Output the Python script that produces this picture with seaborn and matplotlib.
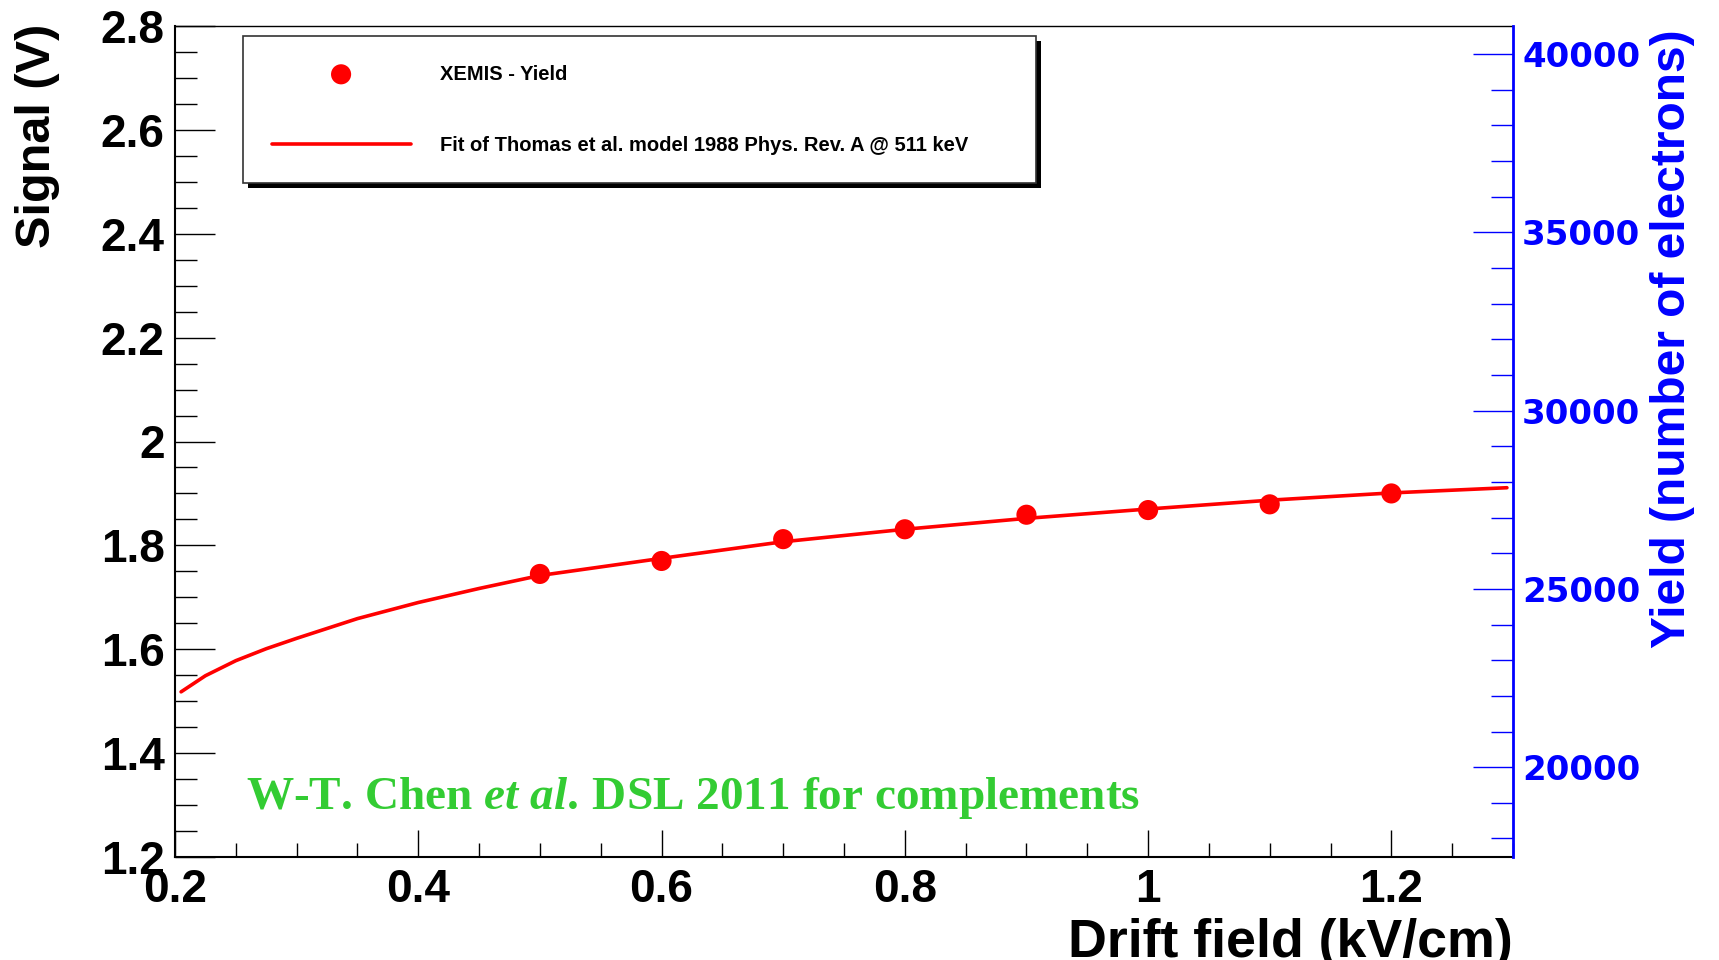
import numpy as np
import pandas as pd
import matplotlib
matplotlib.use("Agg")
import matplotlib.pyplot as plt
from matplotlib.ticker import MultipleLocator
from matplotlib.patches import Rectangle
from matplotlib.transforms import IdentityTransform
from matplotlib import font_manager
import seaborn as sns

# ---------------- data ----------------
field_kv_cm = [0.5, 0.6, 0.7, 0.8, 0.9, 1.0, 1.1, 1.2]
signal_v = [1.745, 1.770, 1.812, 1.831, 1.859, 1.868, 1.879, 1.900]

fit_field = [0.205, 0.225, 0.25, 0.275, 0.30, 0.35, 0.40, 0.45, 0.50, 0.60,
             0.70, 0.80, 0.90, 1.00, 1.10, 1.20, 1.295]
fit_signal = [1.518, 1.549, 1.578, 1.601, 1.621, 1.659, 1.690, 1.717, 1.742,
              1.775, 1.807, 1.831, 1.852, 1.870, 1.887, 1.901, 1.911]

field_range = [0.2, 1.3]
signal_range = [1.2, 2.8]
yield_range = [17480, 40790]

x_ticks = [0.2, 0.4, 0.6, 0.8, 1.0, 1.2]
x_tick_labels = ["0.2", "0.4", "0.6", "0.8", "1", "1.2"]
y_ticks = [1.2, 1.4, 1.6, 1.8, 2.0, 2.2, 2.4, 2.6, 2.8]
y_tick_labels = ["1.2", "1.4", "1.6", "1.8", "2", "2.2", "2.4", "2.6", "2.8"]
yield_ticks = [20000, 25000, 30000, 35000, 40000]
yield_tick_labels = ["20000", "25000", "30000", "35000", "40000"]

label_points = "XEMIS - Yield"
label_fit = "Fit of Thomas et al. model 1988 Phys. Rev. A @ 511 keV"
note_text = r"W-T. Chen $\mathit{et\ al.}\,$DSL 2011 for complements"

# ---------------- style ----------------
sns.set_theme(style="ticks")
plt.rcParams['font.family'] = ['Liberation Sans', 'DejaVu Sans']
plt.rcParams['mathtext.fontset'] = 'custom'
plt.rcParams['mathtext.rm'] = 'Liberation Serif:bold'
plt.rcParams['mathtext.it'] = 'Liberation Serif:italic:bold'
plt.rcParams['axes.facecolor'] = 'white'
plt.rcParams['figure.facecolor'] = 'white'
plt.rcParams['text.color'] = 'black'
plt.rcParams['axes.labelcolor'] = 'black'
plt.rcParams['xtick.color'] = 'black'
plt.rcParams['ytick.color'] = 'black'

RED = '#ff0000'
BLUE = '#0000ff'
GREEN = '#33cc33'

fig = plt.figure(figsize=(17.19, 9.6), dpi=100)
L, B = 175 / 1719, (960 - 857) / 960
W, H = 1338 / 1719, 831 / 960
ax = fig.add_axes([L, B, W, H])

fit_df = pd.DataFrame({'field': fit_field, 'signal': fit_signal})
pts_df = pd.DataFrame({'field': field_kv_cm, 'signal': signal_v})

sns.lineplot(data=fit_df, x='field', y='signal', color=RED, linewidth=2.6,
             ax=ax, sort=False, label=label_fit, zorder=2)
sns.scatterplot(data=pts_df, x='field', y='signal', color=RED, s=210,
                edgecolor='none', linewidth=0, ax=ax, label=label_points,
                zorder=3)

ax.set_xlim(field_range)
ax.set_ylim(signal_range)

ax.set_xticks(x_ticks, labels=x_tick_labels, fontsize=33, fontweight='bold',
              color='black')
ax.set_yticks(y_ticks, labels=y_tick_labels, fontsize=33, fontweight='bold',
              color='black')
ax.xaxis.set_minor_locator(MultipleLocator(0.05))
ax.yaxis.set_minor_locator(MultipleLocator(0.05))
ax.tick_params(axis='y', which='major', direction='in', length=29, width=1.0,
               color='black', labelcolor='black', pad=7.5, left=True, right=False)
ax.tick_params(axis='y', which='minor', direction='in', length=15.5, width=1.0,
               color='black', left=True, right=False)
ax.tick_params(axis='x', which='major', direction='in', length=19.5, width=1.0,
               color='black', labelcolor='black', pad=8.0, bottom=True, top=False)
ax.tick_params(axis='x', which='minor', direction='in', length=10, width=1.0,
               color='black', bottom=True, top=False)

for s in ['left', 'bottom']:
    ax.spines[s].set_color('black')
    ax.spines[s].set_linewidth(1.5)
ax.spines['top'].set_color('black')
ax.spines['top'].set_linewidth(1.0)
ax.spines['right'].set_visible(False)

ax.set_xlabel('Drift field (kV/cm)', loc='right', fontsize=38.7,
              fontweight='bold', color='black')
ax.xaxis.set_label_coords(1.0, -0.073)
ax.set_ylabel('Signal (V)', loc='top', fontsize=35, fontweight='bold',
              color='black')
ax.yaxis.set_label_coords(-0.0859, 1.0024)

# ---------------- secondary (yield) axis ----------------
ax2 = ax.twinx()
ax2.set_ylim(yield_range)
ax2.set_yticks(yield_ticks, labels=yield_tick_labels, fontsize=24.5,
               fontweight='bold', fontfamily='DejaVu Sans', color=BLUE)
ax2.yaxis.set_minor_locator(MultipleLocator(1000))
ax2.tick_params(axis='y', which='major', direction='in', length=29, width=1.0,
                color=BLUE, labelcolor=BLUE, pad=6.5)
ax2.tick_params(axis='y', which='minor', direction='in', length=15.5,
                width=1.0, color=BLUE)
for s in ['left', 'top', 'bottom']:
    ax2.spines[s].set_visible(False)
ax2.spines['right'].set_color(BLUE)
ax2.spines['right'].set_linewidth(2.0)
ax2.grid(False)
ax.grid(False)

names = {f.name for f in font_manager.fontManager.ttflist}
if 'Liberation Sans Narrow' in names:
    yl_family, yl_size = 'Liberation Sans Narrow', 42
else:
    yl_family, yl_size = 'Liberation Sans', 34.5
ax2.set_ylabel('Yield (number of electrons)', loc='top', fontsize=yl_size,
               fontweight='bold', color=BLUE, fontfamily=yl_family)
ax2.yaxis.set_label_coords(1.1024, 0.996)

# ---------------- legend ----------------
handles, labels = ax.get_legend_handles_labels()
order = [labels.index(label_points), labels.index(label_fit)]
if ax.get_legend() is not None:
    ax.get_legend().remove()
leg_x0 = (243 - 175) / 1338
leg_top = (857 - 36) / 831
leg_w = (1036 - 243) / 1338
leg = ax2.legend([handles[i] for i in order], [labels[i] for i in order],
                 loc='upper left', bbox_to_anchor=(leg_x0, leg_top - 0.3, leg_w, 0.3),
                 mode='expand', borderaxespad=0, frameon=True, fancybox=False,
                 edgecolor='#333333', facecolor='white', framealpha=1,
                 prop={'family': 'Liberation Sans', 'weight': 'bold', 'size': 14.5},
                 borderpad=1.42, labelspacing=2.58, handlelength=6.9,
                 handletextpad=1.45, scatterpoints=1)
leg.get_frame().set_linewidth(1.2)
leg.set_zorder(10)
for t in leg.get_texts():
    t.set_color('black')

# green annotation
ax.text((246 - 175) / 1338, (857 - 809) / 831, note_text,
        transform=ax.transAxes, ha='left', va='baseline', color=GREEN,
        fontsize=34, fontfamily='Liberation Serif', fontweight='bold',
        zorder=4)

# legend shadow
fig.canvas.draw()
bb = leg.get_window_extent()
shadow = Rectangle((bb.x0 + 5, bb.y0 - 5), bb.width, bb.height,
                   transform=IdentityTransform(), facecolor='black',
                   edgecolor='none', zorder=9, clip_on=False)
ax2.add_patch(shadow)

fig.savefig('out.png', dpi=100)
